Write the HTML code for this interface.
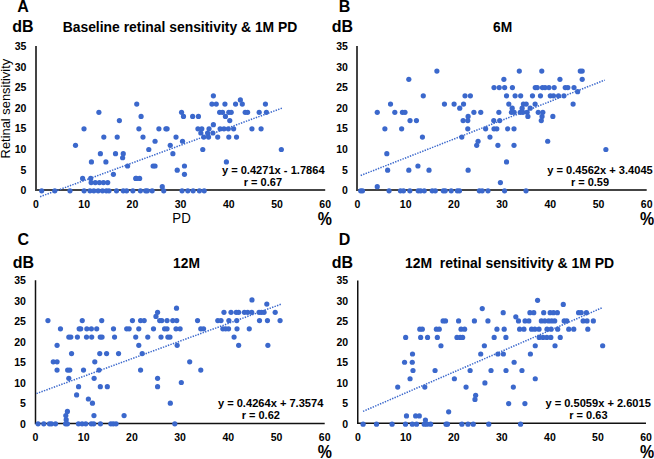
<!DOCTYPE html><html><head><meta charset="utf-8"><style>html,body{margin:0;padding:0;background:#fff;width:654px;height:459px;overflow:hidden}svg{display:block}text{font-family:"Liberation Sans",sans-serif}</style></head><body>
<svg width="654" height="459" viewBox="0 0 654 459">
<rect width="654" height="459" fill="#fff"/>
<text x="26.40" y="194.15" font-size="10.5" font-weight="bold" text-anchor="end" fill="#000">0</text>
<text x="26.40" y="173.55" font-size="10.5" font-weight="bold" text-anchor="end" fill="#000">5</text>
<text x="26.40" y="152.95" font-size="10.5" font-weight="bold" text-anchor="end" fill="#000">10</text>
<text x="26.40" y="132.35" font-size="10.5" font-weight="bold" text-anchor="end" fill="#000">15</text>
<text x="26.40" y="111.75" font-size="10.5" font-weight="bold" text-anchor="end" fill="#000">20</text>
<text x="26.40" y="91.15" font-size="10.5" font-weight="bold" text-anchor="end" fill="#000">25</text>
<text x="26.40" y="70.55" font-size="10.5" font-weight="bold" text-anchor="end" fill="#000">30</text>
<text x="26.40" y="49.95" font-size="10.5" font-weight="bold" text-anchor="end" fill="#000">35</text>
<text x="36.00" y="207.80" font-size="10.5" font-weight="bold" text-anchor="middle" fill="#000">0</text>
<text x="84.20" y="207.80" font-size="10.5" font-weight="bold" text-anchor="middle" fill="#000">10</text>
<text x="132.40" y="207.80" font-size="10.5" font-weight="bold" text-anchor="middle" fill="#000">20</text>
<text x="180.60" y="207.80" font-size="10.5" font-weight="bold" text-anchor="middle" fill="#000">30</text>
<text x="228.80" y="207.80" font-size="10.5" font-weight="bold" text-anchor="middle" fill="#000">40</text>
<text x="277.00" y="207.80" font-size="10.5" font-weight="bold" text-anchor="middle" fill="#000">50</text>
<text x="325.20" y="207.80" font-size="10.5" font-weight="bold" text-anchor="middle" fill="#000">60</text>
<path d="M36.00 46.00V190.00H325.20" fill="none" stroke="#444" stroke-width="2.0"/>
<line x1="40.10" y1="196.68" x2="282.30" y2="108.04" stroke="#3B68CC" stroke-width="1.5" stroke-dasharray="1.4 1.24"/>
<g fill="#3B68CC">
<circle cx="41.69" cy="190.8" r="2.6"/>
<circle cx="54.8" cy="190.8" r="2.6"/>
<circle cx="69.98" cy="190.8" r="2.6"/>
<circle cx="84.1" cy="190.8" r="2.6"/>
<circle cx="89.98" cy="190.8" r="2.6"/>
<circle cx="93.84" cy="190.8" r="2.6"/>
<circle cx="98.18" cy="190.8" r="2.6"/>
<circle cx="102.52" cy="190.8" r="2.6"/>
<circle cx="106.37" cy="190.8" r="2.6"/>
<circle cx="109.02" cy="190.8" r="2.6"/>
<circle cx="116.49" cy="190.8" r="2.6"/>
<circle cx="123.24" cy="190.8" r="2.6"/>
<circle cx="126.62" cy="190.8" r="2.6"/>
<circle cx="132.88" cy="190.8" r="2.6"/>
<circle cx="140.4" cy="190.8" r="2.6"/>
<circle cx="145.61" cy="190.8" r="2.6"/>
<circle cx="147.34" cy="190.8" r="2.6"/>
<circle cx="152.16" cy="190.8" r="2.6"/>
<circle cx="163.73" cy="190.8" r="2.6"/>
<circle cx="182.05" cy="190.8" r="2.6"/>
<circle cx="187.83" cy="190.8" r="2.6"/>
<circle cx="193.13" cy="190.8" r="2.6"/>
<circle cx="199.4" cy="190.8" r="2.6"/>
<circle cx="204.22" cy="190.8" r="2.6"/>
<circle cx="162.28" cy="186.67" r="2.6"/>
<circle cx="91.14" cy="182.54" r="2.6"/>
<circle cx="95.29" cy="182.54" r="2.6"/>
<circle cx="99.43" cy="182.54" r="2.6"/>
<circle cx="103.48" cy="182.54" r="2.6"/>
<circle cx="107.72" cy="182.54" r="2.6"/>
<circle cx="82.61" cy="178.41" r="2.6"/>
<circle cx="90.71" cy="178.41" r="2.6"/>
<circle cx="135.77" cy="178.41" r="2.6"/>
<circle cx="136.26" cy="178.41" r="2.6"/>
<circle cx="139.63" cy="178.41" r="2.6"/>
<circle cx="113.41" cy="174.28" r="2.6"/>
<circle cx="184.46" cy="174.28" r="2.6"/>
<circle cx="177.23" cy="170.15" r="2.6"/>
<circle cx="127.58" cy="166.02" r="2.6"/>
<circle cx="153.13" cy="166.02" r="2.6"/>
<circle cx="155.05" cy="166.02" r="2.6"/>
<circle cx="184.46" cy="166.02" r="2.6"/>
<circle cx="91.43" cy="161.89" r="2.6"/>
<circle cx="105.89" cy="161.89" r="2.6"/>
<circle cx="226.39" cy="161.89" r="2.6"/>
<circle cx="122.62" cy="157.76" r="2.6"/>
<circle cx="100.4" cy="153.63" r="2.6"/>
<circle cx="115.53" cy="153.63" r="2.6"/>
<circle cx="123.24" cy="153.63" r="2.6"/>
<circle cx="172.89" cy="153.63" r="2.6"/>
<circle cx="148.79" cy="149.5" r="2.6"/>
<circle cx="202.77" cy="149.5" r="2.6"/>
<circle cx="281.34" cy="149.5" r="2.6"/>
<circle cx="75.52" cy="145.37" r="2.6"/>
<circle cx="170.24" cy="145.37" r="2.6"/>
<circle cx="155.05" cy="141.24" r="2.6"/>
<circle cx="182.53" cy="141.24" r="2.6"/>
<circle cx="103.82" cy="137.11" r="2.6"/>
<circle cx="117.22" cy="137.11" r="2.6"/>
<circle cx="143.0" cy="137.11" r="2.6"/>
<circle cx="176.02" cy="137.11" r="2.6"/>
<circle cx="203.74" cy="137.11" r="2.6"/>
<circle cx="208.56" cy="137.11" r="2.6"/>
<circle cx="217.71" cy="137.11" r="2.6"/>
<circle cx="228.8" cy="137.11" r="2.6"/>
<circle cx="236.51" cy="137.11" r="2.6"/>
<circle cx="200.84" cy="132.98" r="2.6"/>
<circle cx="207.59" cy="132.98" r="2.6"/>
<circle cx="212.89" cy="132.98" r="2.6"/>
<circle cx="84.01" cy="128.85" r="2.6"/>
<circle cx="138.91" cy="128.85" r="2.6"/>
<circle cx="158.91" cy="128.85" r="2.6"/>
<circle cx="165.9" cy="128.85" r="2.6"/>
<circle cx="167.1" cy="128.85" r="2.6"/>
<circle cx="197.95" cy="128.85" r="2.6"/>
<circle cx="201.81" cy="128.85" r="2.6"/>
<circle cx="209.04" cy="128.85" r="2.6"/>
<circle cx="220.12" cy="128.85" r="2.6"/>
<circle cx="223.98" cy="128.85" r="2.6"/>
<circle cx="228.32" cy="128.85" r="2.6"/>
<circle cx="233.62" cy="128.85" r="2.6"/>
<circle cx="251.94" cy="128.85" r="2.6"/>
<circle cx="261.09" cy="128.85" r="2.6"/>
<circle cx="213.38" cy="124.72" r="2.6"/>
<circle cx="119.39" cy="120.59" r="2.6"/>
<circle cx="229.76" cy="120.59" r="2.6"/>
<circle cx="141.08" cy="116.46" r="2.6"/>
<circle cx="183.49" cy="116.46" r="2.6"/>
<circle cx="192.65" cy="116.46" r="2.6"/>
<circle cx="198.43" cy="116.46" r="2.6"/>
<circle cx="225.43" cy="116.46" r="2.6"/>
<circle cx="98.9" cy="112.33" r="2.6"/>
<circle cx="181.56" cy="112.33" r="2.6"/>
<circle cx="219.64" cy="112.33" r="2.6"/>
<circle cx="222.53" cy="112.33" r="2.6"/>
<circle cx="228.8" cy="112.33" r="2.6"/>
<circle cx="231.21" cy="112.33" r="2.6"/>
<circle cx="245.19" cy="112.33" r="2.6"/>
<circle cx="247.6" cy="112.33" r="2.6"/>
<circle cx="259.17" cy="112.33" r="2.6"/>
<circle cx="266.4" cy="112.33" r="2.6"/>
<circle cx="136.74" cy="104.07" r="2.6"/>
<circle cx="211.93" cy="104.07" r="2.6"/>
<circle cx="216.27" cy="104.07" r="2.6"/>
<circle cx="224.94" cy="104.07" r="2.6"/>
<circle cx="235.55" cy="104.07" r="2.6"/>
<circle cx="242.3" cy="104.07" r="2.6"/>
<circle cx="265.43" cy="104.07" r="2.6"/>
<circle cx="240.37" cy="99.94" r="2.6"/>
<circle cx="213.38" cy="95.81" r="2.6"/>
</g>
<text x="347.90" y="194.15" font-size="10.5" font-weight="bold" text-anchor="end" fill="#000">0</text>
<text x="347.90" y="173.55" font-size="10.5" font-weight="bold" text-anchor="end" fill="#000">5</text>
<text x="347.90" y="152.95" font-size="10.5" font-weight="bold" text-anchor="end" fill="#000">10</text>
<text x="347.90" y="132.35" font-size="10.5" font-weight="bold" text-anchor="end" fill="#000">15</text>
<text x="347.90" y="111.75" font-size="10.5" font-weight="bold" text-anchor="end" fill="#000">20</text>
<text x="347.90" y="91.15" font-size="10.5" font-weight="bold" text-anchor="end" fill="#000">25</text>
<text x="347.90" y="70.55" font-size="10.5" font-weight="bold" text-anchor="end" fill="#000">30</text>
<text x="347.90" y="49.95" font-size="10.5" font-weight="bold" text-anchor="end" fill="#000">35</text>
<text x="357.50" y="207.80" font-size="10.5" font-weight="bold" text-anchor="middle" fill="#000">0</text>
<text x="405.70" y="207.80" font-size="10.5" font-weight="bold" text-anchor="middle" fill="#000">10</text>
<text x="453.90" y="207.80" font-size="10.5" font-weight="bold" text-anchor="middle" fill="#000">20</text>
<text x="502.10" y="207.80" font-size="10.5" font-weight="bold" text-anchor="middle" fill="#000">30</text>
<text x="550.30" y="207.80" font-size="10.5" font-weight="bold" text-anchor="middle" fill="#000">40</text>
<text x="598.50" y="207.80" font-size="10.5" font-weight="bold" text-anchor="middle" fill="#000">50</text>
<text x="646.70" y="207.80" font-size="10.5" font-weight="bold" text-anchor="middle" fill="#000">60</text>
<path d="M357.00 46.00V190.00H646.70" fill="none" stroke="#444" stroke-width="2.0"/>
<line x1="360.68" y1="175.50" x2="604.77" y2="80.08" stroke="#3B68CC" stroke-width="1.5" stroke-dasharray="1.4 1.24"/>
<g fill="#3B68CC">
<circle cx="436.89" cy="71.03" r="2.6"/>
<circle cx="519.31" cy="71.03" r="2.6"/>
<circle cx="541.77" cy="71.03" r="2.6"/>
<circle cx="580.28" cy="71.03" r="2.6"/>
<circle cx="582.21" cy="71.03" r="2.6"/>
<circle cx="408.83" cy="79.29" r="2.6"/>
<circle cx="503.88" cy="79.29" r="2.6"/>
<circle cx="559.94" cy="79.29" r="2.6"/>
<circle cx="582.21" cy="79.29" r="2.6"/>
<circle cx="494.0" cy="87.55" r="2.6"/>
<circle cx="499.21" cy="87.55" r="2.6"/>
<circle cx="504.65" cy="87.55" r="2.6"/>
<circle cx="512.41" cy="87.55" r="2.6"/>
<circle cx="535.26" cy="87.55" r="2.6"/>
<circle cx="537.24" cy="87.55" r="2.6"/>
<circle cx="542.44" cy="87.55" r="2.6"/>
<circle cx="545.05" cy="87.55" r="2.6"/>
<circle cx="548.95" cy="87.55" r="2.6"/>
<circle cx="554.2" cy="87.55" r="2.6"/>
<circle cx="565.24" cy="87.55" r="2.6"/>
<circle cx="567.84" cy="87.55" r="2.6"/>
<circle cx="574.01" cy="87.55" r="2.6"/>
<circle cx="577.63" cy="91.68" r="2.6"/>
<circle cx="423.29" cy="95.81" r="2.6"/>
<circle cx="465.03" cy="95.81" r="2.6"/>
<circle cx="470.38" cy="95.81" r="2.6"/>
<circle cx="506.53" cy="95.81" r="2.6"/>
<circle cx="515.11" cy="95.81" r="2.6"/>
<circle cx="520.66" cy="95.81" r="2.6"/>
<circle cx="532.47" cy="95.81" r="2.6"/>
<circle cx="540.47" cy="95.81" r="2.6"/>
<circle cx="550.3" cy="95.81" r="2.6"/>
<circle cx="553.48" cy="95.81" r="2.6"/>
<circle cx="558.49" cy="95.81" r="2.6"/>
<circle cx="563.94" cy="95.81" r="2.6"/>
<circle cx="390.52" cy="104.07" r="2.6"/>
<circle cx="444.45" cy="104.07" r="2.6"/>
<circle cx="454.09" cy="104.07" r="2.6"/>
<circle cx="463.54" cy="104.07" r="2.6"/>
<circle cx="508.8" cy="104.07" r="2.6"/>
<circle cx="523.4" cy="104.07" r="2.6"/>
<circle cx="526.2" cy="104.07" r="2.6"/>
<circle cx="535.12" cy="104.07" r="2.6"/>
<circle cx="573.1" cy="104.07" r="2.6"/>
<circle cx="459.73" cy="108.2" r="2.6"/>
<circle cx="512.22" cy="108.2" r="2.6"/>
<circle cx="522.15" cy="108.2" r="2.6"/>
<circle cx="530.2" cy="108.2" r="2.6"/>
<circle cx="377.26" cy="112.33" r="2.6"/>
<circle cx="394.81" cy="112.33" r="2.6"/>
<circle cx="402.42" cy="112.33" r="2.6"/>
<circle cx="404.98" cy="112.33" r="2.6"/>
<circle cx="473.9" cy="112.33" r="2.6"/>
<circle cx="480.75" cy="112.33" r="2.6"/>
<circle cx="498.87" cy="112.33" r="2.6"/>
<circle cx="511.45" cy="112.33" r="2.6"/>
<circle cx="514.15" cy="112.33" r="2.6"/>
<circle cx="520.27" cy="112.33" r="2.6"/>
<circle cx="522.92" cy="112.33" r="2.6"/>
<circle cx="527.16" cy="112.33" r="2.6"/>
<circle cx="538.25" cy="112.33" r="2.6"/>
<circle cx="542.83" cy="112.33" r="2.6"/>
<circle cx="468.12" cy="116.46" r="2.6"/>
<circle cx="527.89" cy="116.46" r="2.6"/>
<circle cx="542.06" cy="116.46" r="2.6"/>
<circle cx="552.85" cy="116.46" r="2.6"/>
<circle cx="410.04" cy="120.59" r="2.6"/>
<circle cx="416.45" cy="120.59" r="2.6"/>
<circle cx="463.11" cy="120.59" r="2.6"/>
<circle cx="467.78" cy="120.59" r="2.6"/>
<circle cx="493.76" cy="120.59" r="2.6"/>
<circle cx="499.69" cy="120.59" r="2.6"/>
<circle cx="541.29" cy="120.59" r="2.6"/>
<circle cx="384.88" cy="128.85" r="2.6"/>
<circle cx="401.65" cy="128.85" r="2.6"/>
<circle cx="467.78" cy="128.85" r="2.6"/>
<circle cx="485.62" cy="128.85" r="2.6"/>
<circle cx="494.0" cy="128.85" r="2.6"/>
<circle cx="496.8" cy="128.85" r="2.6"/>
<circle cx="507.69" cy="128.85" r="2.6"/>
<circle cx="514.01" cy="128.85" r="2.6"/>
<circle cx="422.43" cy="137.11" r="2.6"/>
<circle cx="461.8" cy="137.11" r="2.6"/>
<circle cx="489.95" cy="137.11" r="2.6"/>
<circle cx="478.05" cy="141.24" r="2.6"/>
<circle cx="547.7" cy="141.24" r="2.6"/>
<circle cx="476.7" cy="145.37" r="2.6"/>
<circle cx="497.91" cy="145.37" r="2.6"/>
<circle cx="514.01" cy="145.37" r="2.6"/>
<circle cx="605.87" cy="149.5" r="2.6"/>
<circle cx="386.81" cy="153.63" r="2.6"/>
<circle cx="506.53" cy="161.89" r="2.6"/>
<circle cx="417.94" cy="166.02" r="2.6"/>
<circle cx="387.62" cy="170.15" r="2.6"/>
<circle cx="408.83" cy="170.15" r="2.6"/>
<circle cx="429.03" cy="170.15" r="2.6"/>
<circle cx="468.12" cy="170.15" r="2.6"/>
<circle cx="500.41" cy="182.54" r="2.6"/>
<circle cx="377.26" cy="186.67" r="2.6"/>
<circle cx="360.68" cy="190.8" r="2.6"/>
<circle cx="362.51" cy="190.8" r="2.6"/>
<circle cx="389.07" cy="190.8" r="2.6"/>
<circle cx="400.45" cy="190.8" r="2.6"/>
<circle cx="403.48" cy="190.8" r="2.6"/>
<circle cx="409.85" cy="190.8" r="2.6"/>
<circle cx="418.18" cy="190.8" r="2.6"/>
<circle cx="420.59" cy="190.8" r="2.6"/>
<circle cx="424.26" cy="190.8" r="2.6"/>
<circle cx="432.21" cy="190.8" r="2.6"/>
<circle cx="435.29" cy="190.8" r="2.6"/>
<circle cx="443.25" cy="190.8" r="2.6"/>
<circle cx="445.22" cy="190.8" r="2.6"/>
<circle cx="451.2" cy="190.8" r="2.6"/>
<circle cx="457.32" cy="190.8" r="2.6"/>
<circle cx="459.49" cy="190.8" r="2.6"/>
<circle cx="479.35" cy="190.8" r="2.6"/>
<circle cx="482.19" cy="190.8" r="2.6"/>
<circle cx="487.98" cy="190.8" r="2.6"/>
<circle cx="504.56" cy="190.8" r="2.6"/>
<circle cx="526.01" cy="190.8" r="2.6"/>
</g>
<text x="25.90" y="427.75" font-size="10.5" font-weight="bold" text-anchor="end" fill="#000">0</text>
<text x="25.90" y="407.26" font-size="10.5" font-weight="bold" text-anchor="end" fill="#000">5</text>
<text x="25.90" y="386.78" font-size="10.5" font-weight="bold" text-anchor="end" fill="#000">10</text>
<text x="25.90" y="366.29" font-size="10.5" font-weight="bold" text-anchor="end" fill="#000">15</text>
<text x="25.90" y="345.81" font-size="10.5" font-weight="bold" text-anchor="end" fill="#000">20</text>
<text x="25.90" y="325.32" font-size="10.5" font-weight="bold" text-anchor="end" fill="#000">25</text>
<text x="25.90" y="304.84" font-size="10.5" font-weight="bold" text-anchor="end" fill="#000">30</text>
<text x="25.90" y="284.35" font-size="10.5" font-weight="bold" text-anchor="end" fill="#000">35</text>
<text x="35.50" y="441.00" font-size="10.5" font-weight="bold" text-anchor="middle" fill="#000">0</text>
<text x="83.70" y="441.00" font-size="10.5" font-weight="bold" text-anchor="middle" fill="#000">10</text>
<text x="131.90" y="441.00" font-size="10.5" font-weight="bold" text-anchor="middle" fill="#000">20</text>
<text x="180.10" y="441.00" font-size="10.5" font-weight="bold" text-anchor="middle" fill="#000">30</text>
<text x="228.30" y="441.00" font-size="10.5" font-weight="bold" text-anchor="middle" fill="#000">40</text>
<text x="276.50" y="441.00" font-size="10.5" font-weight="bold" text-anchor="middle" fill="#000">50</text>
<text x="324.70" y="441.00" font-size="10.5" font-weight="bold" text-anchor="middle" fill="#000">60</text>
<path d="M35.50 280.30V423.50H324.70" fill="none" stroke="#111" stroke-width="1.5"/>
<line x1="36.46" y1="393.56" x2="280.84" y2="304.28" stroke="#3B68CC" stroke-width="1.5" stroke-dasharray="1.4 1.24"/>
<g fill="#3B68CC">
<circle cx="251.97" cy="299.9" r="2.6"/>
<circle cx="266.81" cy="304.03" r="2.6"/>
<circle cx="176.53" cy="308.16" r="2.6"/>
<circle cx="157.59" cy="312.29" r="2.6"/>
<circle cx="223.96" cy="312.29" r="2.6"/>
<circle cx="231.0" cy="312.29" r="2.6"/>
<circle cx="236.2" cy="312.29" r="2.6"/>
<circle cx="238.66" cy="312.29" r="2.6"/>
<circle cx="244.4" cy="312.29" r="2.6"/>
<circle cx="247.68" cy="312.29" r="2.6"/>
<circle cx="251.73" cy="312.29" r="2.6"/>
<circle cx="259.05" cy="312.29" r="2.6"/>
<circle cx="261.46" cy="312.29" r="2.6"/>
<circle cx="264.06" cy="312.29" r="2.6"/>
<circle cx="275.2" cy="312.29" r="2.6"/>
<circle cx="155.95" cy="316.42" r="2.6"/>
<circle cx="47.94" cy="320.55" r="2.6"/>
<circle cx="82.25" cy="320.55" r="2.6"/>
<circle cx="101.73" cy="320.55" r="2.6"/>
<circle cx="132.43" cy="320.55" r="2.6"/>
<circle cx="140.58" cy="320.55" r="2.6"/>
<circle cx="144.19" cy="320.55" r="2.6"/>
<circle cx="159.71" cy="320.55" r="2.6"/>
<circle cx="161.83" cy="320.55" r="2.6"/>
<circle cx="167.04" cy="320.55" r="2.6"/>
<circle cx="172.77" cy="320.55" r="2.6"/>
<circle cx="176.73" cy="320.55" r="2.6"/>
<circle cx="197.55" cy="320.55" r="2.6"/>
<circle cx="217.79" cy="320.55" r="2.6"/>
<circle cx="221.02" cy="320.55" r="2.6"/>
<circle cx="228.88" cy="320.55" r="2.6"/>
<circle cx="236.74" cy="320.55" r="2.6"/>
<circle cx="259.49" cy="320.55" r="2.6"/>
<circle cx="267.44" cy="320.55" r="2.6"/>
<circle cx="280.07" cy="320.55" r="2.6"/>
<circle cx="60.47" cy="328.81" r="2.6"/>
<circle cx="79.17" cy="328.81" r="2.6"/>
<circle cx="80.71" cy="328.81" r="2.6"/>
<circle cx="86.83" cy="328.81" r="2.6"/>
<circle cx="91.36" cy="328.81" r="2.6"/>
<circle cx="96.71" cy="328.81" r="2.6"/>
<circle cx="113.49" cy="328.81" r="2.6"/>
<circle cx="126.69" cy="328.81" r="2.6"/>
<circle cx="129.15" cy="328.81" r="2.6"/>
<circle cx="138.79" cy="328.81" r="2.6"/>
<circle cx="153.49" cy="328.81" r="2.6"/>
<circle cx="164.58" cy="328.81" r="2.6"/>
<circle cx="167.04" cy="328.81" r="2.6"/>
<circle cx="176.0" cy="328.81" r="2.6"/>
<circle cx="180.1" cy="328.81" r="2.6"/>
<circle cx="200.78" cy="328.81" r="2.6"/>
<circle cx="203.57" cy="328.81" r="2.6"/>
<circle cx="222.85" cy="328.81" r="2.6"/>
<circle cx="225.6" cy="328.81" r="2.6"/>
<circle cx="228.54" cy="328.81" r="2.6"/>
<circle cx="237.02" cy="328.81" r="2.6"/>
<circle cx="249.27" cy="328.81" r="2.6"/>
<circle cx="68.81" cy="337.07" r="2.6"/>
<circle cx="70.83" cy="337.07" r="2.6"/>
<circle cx="77.39" cy="337.07" r="2.6"/>
<circle cx="86.5" cy="337.07" r="2.6"/>
<circle cx="91.7" cy="337.07" r="2.6"/>
<circle cx="100.23" cy="337.07" r="2.6"/>
<circle cx="102.06" cy="337.07" r="2.6"/>
<circle cx="114.55" cy="337.07" r="2.6"/>
<circle cx="135.71" cy="337.07" r="2.6"/>
<circle cx="147.76" cy="337.07" r="2.6"/>
<circle cx="161.01" cy="337.07" r="2.6"/>
<circle cx="167.86" cy="337.07" r="2.6"/>
<circle cx="169.98" cy="337.07" r="2.6"/>
<circle cx="234.08" cy="337.07" r="2.6"/>
<circle cx="57.09" cy="345.33" r="2.6"/>
<circle cx="138.79" cy="345.33" r="2.6"/>
<circle cx="177.16" cy="345.33" r="2.6"/>
<circle cx="238.66" cy="345.33" r="2.6"/>
<circle cx="267.87" cy="345.33" r="2.6"/>
<circle cx="71.55" cy="353.59" r="2.6"/>
<circle cx="99.75" cy="353.59" r="2.6"/>
<circle cx="106.59" cy="353.59" r="2.6"/>
<circle cx="118.55" cy="353.59" r="2.6"/>
<circle cx="142.21" cy="353.59" r="2.6"/>
<circle cx="53.29" cy="361.85" r="2.6"/>
<circle cx="57.09" cy="361.85" r="2.6"/>
<circle cx="94.79" cy="361.85" r="2.6"/>
<circle cx="189.69" cy="361.85" r="2.6"/>
<circle cx="57.05" cy="370.11" r="2.6"/>
<circle cx="67.65" cy="370.11" r="2.6"/>
<circle cx="69.77" cy="370.11" r="2.6"/>
<circle cx="83.51" cy="370.11" r="2.6"/>
<circle cx="98.98" cy="370.11" r="2.6"/>
<circle cx="140.58" cy="370.11" r="2.6"/>
<circle cx="200.78" cy="370.11" r="2.6"/>
<circle cx="68.81" cy="378.37" r="2.6"/>
<circle cx="94.11" cy="378.37" r="2.6"/>
<circle cx="157.59" cy="378.37" r="2.6"/>
<circle cx="181.31" cy="382.5" r="2.6"/>
<circle cx="78.59" cy="386.63" r="2.6"/>
<circle cx="100.33" cy="386.63" r="2.6"/>
<circle cx="107.32" cy="386.63" r="2.6"/>
<circle cx="157.59" cy="386.63" r="2.6"/>
<circle cx="76.61" cy="394.89" r="2.6"/>
<circle cx="88.38" cy="399.02" r="2.6"/>
<circle cx="92.47" cy="403.15" r="2.6"/>
<circle cx="170.32" cy="403.15" r="2.6"/>
<circle cx="67.41" cy="411.41" r="2.6"/>
<circle cx="65.82" cy="415.54" r="2.6"/>
<circle cx="93.97" cy="415.54" r="2.6"/>
<circle cx="124.09" cy="415.54" r="2.6"/>
<circle cx="66.2" cy="419.67" r="2.6"/>
<circle cx="38.05" cy="423.8" r="2.6"/>
<circle cx="43.79" cy="423.8" r="2.6"/>
<circle cx="49.43" cy="423.8" r="2.6"/>
<circle cx="51.5" cy="423.8" r="2.6"/>
<circle cx="55.55" cy="423.8" r="2.6"/>
<circle cx="65.58" cy="423.8" r="2.6"/>
<circle cx="67.41" cy="423.8" r="2.6"/>
<circle cx="78.45" cy="423.8" r="2.6"/>
<circle cx="82.11" cy="423.8" r="2.6"/>
<circle cx="85.77" cy="423.8" r="2.6"/>
<circle cx="91.27" cy="423.8" r="2.6"/>
<circle cx="93.73" cy="423.8" r="2.6"/>
<circle cx="100.43" cy="423.8" r="2.6"/>
<circle cx="110.84" cy="423.8" r="2.6"/>
<circle cx="113.29" cy="423.8" r="2.6"/>
<circle cx="116.09" cy="423.8" r="2.6"/>
<circle cx="174.8" cy="423.8" r="2.6"/>
</g>
<text x="348.20" y="427.75" font-size="10.5" font-weight="bold" text-anchor="end" fill="#000">0</text>
<text x="348.20" y="407.26" font-size="10.5" font-weight="bold" text-anchor="end" fill="#000">5</text>
<text x="348.20" y="386.78" font-size="10.5" font-weight="bold" text-anchor="end" fill="#000">10</text>
<text x="348.20" y="366.29" font-size="10.5" font-weight="bold" text-anchor="end" fill="#000">15</text>
<text x="348.20" y="345.81" font-size="10.5" font-weight="bold" text-anchor="end" fill="#000">20</text>
<text x="348.20" y="325.32" font-size="10.5" font-weight="bold" text-anchor="end" fill="#000">25</text>
<text x="348.20" y="304.84" font-size="10.5" font-weight="bold" text-anchor="end" fill="#000">30</text>
<text x="348.20" y="284.35" font-size="10.5" font-weight="bold" text-anchor="end" fill="#000">35</text>
<text x="357.80" y="440.90" font-size="10.5" font-weight="bold" text-anchor="middle" fill="#000">0</text>
<text x="405.83" y="440.90" font-size="10.5" font-weight="bold" text-anchor="middle" fill="#000">10</text>
<text x="453.86" y="440.90" font-size="10.5" font-weight="bold" text-anchor="middle" fill="#000">20</text>
<text x="501.89" y="440.90" font-size="10.5" font-weight="bold" text-anchor="middle" fill="#000">30</text>
<text x="549.92" y="440.90" font-size="10.5" font-weight="bold" text-anchor="middle" fill="#000">40</text>
<text x="597.95" y="440.90" font-size="10.5" font-weight="bold" text-anchor="middle" fill="#000">50</text>
<text x="645.98" y="440.90" font-size="10.5" font-weight="bold" text-anchor="middle" fill="#000">60</text>
<path d="M357.75 280.50V423.30H645.98" fill="none" stroke="#111" stroke-width="1.5"/>
<line x1="363.01" y1="411.40" x2="602.17" y2="307.72" stroke="#3B68CC" stroke-width="1.5" stroke-dasharray="1.4 1.24"/>
<g fill="#3B68CC">
<circle cx="537.59" cy="300.3" r="2.6"/>
<circle cx="563.28" cy="304.43" r="2.6"/>
<circle cx="482.25" cy="308.56" r="2.6"/>
<circle cx="503.22" cy="312.69" r="2.6"/>
<circle cx="529.92" cy="312.69" r="2.6"/>
<circle cx="533.78" cy="312.69" r="2.6"/>
<circle cx="543.71" cy="312.69" r="2.6"/>
<circle cx="550.12" cy="312.69" r="2.6"/>
<circle cx="553.49" cy="312.69" r="2.6"/>
<circle cx="557.35" cy="312.69" r="2.6"/>
<circle cx="578.56" cy="312.69" r="2.6"/>
<circle cx="581.16" cy="312.69" r="2.6"/>
<circle cx="586.41" cy="312.69" r="2.6"/>
<circle cx="515.8" cy="316.82" r="2.6"/>
<circle cx="443.07" cy="320.95" r="2.6"/>
<circle cx="445.52" cy="320.95" r="2.6"/>
<circle cx="458.59" cy="320.95" r="2.6"/>
<circle cx="474.4" cy="320.95" r="2.6"/>
<circle cx="487.94" cy="320.95" r="2.6"/>
<circle cx="518.5" cy="320.95" r="2.6"/>
<circle cx="525.05" cy="320.95" r="2.6"/>
<circle cx="528.86" cy="320.95" r="2.6"/>
<circle cx="541.35" cy="320.95" r="2.6"/>
<circle cx="544.82" cy="320.95" r="2.6"/>
<circle cx="548.67" cy="320.95" r="2.6"/>
<circle cx="551.71" cy="320.95" r="2.6"/>
<circle cx="554.7" cy="320.95" r="2.6"/>
<circle cx="564.19" cy="320.95" r="2.6"/>
<circle cx="566.8" cy="320.95" r="2.6"/>
<circle cx="583.13" cy="320.95" r="2.6"/>
<circle cx="587.04" cy="320.95" r="2.6"/>
<circle cx="593.35" cy="320.95" r="2.6"/>
<circle cx="419.83" cy="329.21" r="2.6"/>
<circle cx="422.29" cy="329.21" r="2.6"/>
<circle cx="436.37" cy="329.21" r="2.6"/>
<circle cx="439.26" cy="329.21" r="2.6"/>
<circle cx="461.04" cy="329.21" r="2.6"/>
<circle cx="464.61" cy="329.21" r="2.6"/>
<circle cx="496.95" cy="329.21" r="2.6"/>
<circle cx="504.18" cy="329.21" r="2.6"/>
<circle cx="519.61" cy="329.21" r="2.6"/>
<circle cx="523.95" cy="329.21" r="2.6"/>
<circle cx="531.56" cy="329.21" r="2.6"/>
<circle cx="534.84" cy="329.21" r="2.6"/>
<circle cx="539.03" cy="329.21" r="2.6"/>
<circle cx="546.99" cy="329.21" r="2.6"/>
<circle cx="551.13" cy="329.21" r="2.6"/>
<circle cx="557.69" cy="329.21" r="2.6"/>
<circle cx="568.77" cy="329.21" r="2.6"/>
<circle cx="573.74" cy="329.21" r="2.6"/>
<circle cx="587.81" cy="329.21" r="2.6"/>
<circle cx="405.66" cy="337.47" r="2.6"/>
<circle cx="420.65" cy="337.47" r="2.6"/>
<circle cx="427.55" cy="337.47" r="2.6"/>
<circle cx="437.33" cy="337.47" r="2.6"/>
<circle cx="456.95" cy="337.47" r="2.6"/>
<circle cx="460.23" cy="337.47" r="2.6"/>
<circle cx="462.63" cy="337.47" r="2.6"/>
<circle cx="494.16" cy="337.47" r="2.6"/>
<circle cx="505.92" cy="337.47" r="2.6"/>
<circle cx="539.22" cy="337.47" r="2.6"/>
<circle cx="543.03" cy="337.47" r="2.6"/>
<circle cx="546.84" cy="337.47" r="2.6"/>
<circle cx="550.84" cy="337.47" r="2.6"/>
<circle cx="560.24" cy="337.47" r="2.6"/>
<circle cx="440.95" cy="345.73" r="2.6"/>
<circle cx="484.37" cy="345.73" r="2.6"/>
<circle cx="535.27" cy="345.73" r="2.6"/>
<circle cx="555.03" cy="345.73" r="2.6"/>
<circle cx="602.66" cy="345.73" r="2.6"/>
<circle cx="412.51" cy="353.99" r="2.6"/>
<circle cx="480.71" cy="353.99" r="2.6"/>
<circle cx="497.87" cy="353.99" r="2.6"/>
<circle cx="503.36" cy="353.99" r="2.6"/>
<circle cx="530.4" cy="353.99" r="2.6"/>
<circle cx="404.55" cy="362.25" r="2.6"/>
<circle cx="412.27" cy="362.25" r="2.6"/>
<circle cx="514.11" cy="362.25" r="2.6"/>
<circle cx="412.99" cy="370.51" r="2.6"/>
<circle cx="435.06" cy="370.51" r="2.6"/>
<circle cx="470.11" cy="370.51" r="2.6"/>
<circle cx="491.02" cy="370.51" r="2.6"/>
<circle cx="506.01" cy="370.51" r="2.6"/>
<circle cx="521.97" cy="370.51" r="2.6"/>
<circle cx="410.05" cy="378.77" r="2.6"/>
<circle cx="454.39" cy="378.77" r="2.6"/>
<circle cx="535.27" cy="378.77" r="2.6"/>
<circle cx="484.9" cy="382.9" r="2.6"/>
<circle cx="397.71" cy="387.03" r="2.6"/>
<circle cx="424.8" cy="387.03" r="2.6"/>
<circle cx="466.06" cy="387.03" r="2.6"/>
<circle cx="513.34" cy="387.03" r="2.6"/>
<circle cx="475.65" cy="395.29" r="2.6"/>
<circle cx="474.97" cy="399.42" r="2.6"/>
<circle cx="508.67" cy="403.55" r="2.6"/>
<circle cx="524.91" cy="403.55" r="2.6"/>
<circle cx="448.66" cy="411.81" r="2.6"/>
<circle cx="406.48" cy="415.94" r="2.6"/>
<circle cx="415.64" cy="415.94" r="2.6"/>
<circle cx="419.3" cy="415.94" r="2.6"/>
<circle cx="425.42" cy="420.07" r="2.6"/>
<circle cx="363.1" cy="424.2" r="2.6"/>
<circle cx="376.5" cy="424.2" r="2.6"/>
<circle cx="392.07" cy="424.2" r="2.6"/>
<circle cx="405.52" cy="424.2" r="2.6"/>
<circle cx="412.31" cy="424.2" r="2.6"/>
<circle cx="416.56" cy="424.2" r="2.6"/>
<circle cx="424.22" cy="424.2" r="2.6"/>
<circle cx="426.97" cy="424.2" r="2.6"/>
<circle cx="430.63" cy="424.2" r="2.6"/>
<circle cx="446.05" cy="424.2" r="2.6"/>
<circle cx="447.45" cy="424.2" r="2.6"/>
<circle cx="461.91" cy="424.2" r="2.6"/>
<circle cx="467.99" cy="424.2" r="2.6"/>
<circle cx="473.24" cy="424.2" r="2.6"/>
<circle cx="488.76" cy="424.2" r="2.6"/>
<circle cx="520.57" cy="424.2" r="2.6"/>
</g>
<text x="23.0" y="11.7" font-size="16" font-weight="bold" text-anchor="middle" fill="#000" >A</text>
<text x="22.9" y="31.6" font-size="16" font-weight="bold" text-anchor="middle" fill="#000" >dB</text>
<text x="344.5" y="11.7" font-size="16" font-weight="bold" text-anchor="middle" fill="#000" >B</text>
<text x="342.4" y="31.6" font-size="16" font-weight="bold" text-anchor="middle" fill="#000" >dB</text>
<text x="23.2" y="244.6" font-size="16" font-weight="bold" text-anchor="middle" fill="#000" >C</text>
<text x="23.4" y="267.9" font-size="16" font-weight="bold" text-anchor="middle" fill="#000" >dB</text>
<text x="344.5" y="244.6" font-size="16" font-weight="bold" text-anchor="middle" fill="#000" >D</text>
<text x="342.4" y="267.9" font-size="16" font-weight="bold" text-anchor="middle" fill="#000" >dB</text>
<text x="180.0" y="32.1" font-size="13.9" font-weight="bold" text-anchor="middle" fill="#000" >Baseline retinal sensitivity &amp; 1M PD</text>
<text x="502.7" y="32.1" font-size="13.8" font-weight="bold" text-anchor="middle" fill="#000" >6M</text>
<text x="186.5" y="267.9" font-size="13.8" font-weight="bold" text-anchor="middle" fill="#000" >12M</text>
<text x="509.5" y="268.1" font-size="13.95" font-weight="bold" text-anchor="middle" fill="#000" xml:space="preserve">12M  retinal sensitivity &amp; 1M PD</text>
<text x="324.6" y="174.2" font-size="11.1" font-weight="bold" text-anchor="end" fill="#000" >y = 0.4271x - 1.7864</text>
<text x="262.9" y="186.2" font-size="11" font-weight="bold" text-anchor="middle" fill="#000" >r = 0.67</text>
<text x="652.8" y="174.2" font-size="11.1" font-weight="bold" text-anchor="end" fill="#000" >y = 0.4562x + 3.4045</text>
<text x="590.0" y="186.2" font-size="11" font-weight="bold" text-anchor="middle" fill="#000" >r = 0.59</text>
<text x="323.4" y="407.4" font-size="11.1" font-weight="bold" text-anchor="end" fill="#000" >y = 0.4264x + 7.3574</text>
<text x="260.8" y="419.3" font-size="11" font-weight="bold" text-anchor="middle" fill="#000" >r = 0.62</text>
<text x="650.9" y="406.8" font-size="11.1" font-weight="bold" text-anchor="end" fill="#000" >y = 0.5059x + 2.6015</text>
<text x="588.4" y="419.3" font-size="11" font-weight="bold" text-anchor="middle" fill="#000" >r = 0.63</text>
<text transform="translate(324.9,224.6) scale(1.03,1.18)" font-size="15.5" font-weight="bold" text-anchor="middle" fill="#000">%</text>
<text transform="translate(647.0,224.6) scale(1.03,1.18)" font-size="15.5" font-weight="bold" text-anchor="middle" fill="#000">%</text>
<text transform="translate(324.9,457.8) scale(1.03,1.18)" font-size="15.5" font-weight="bold" text-anchor="middle" fill="#000">%</text>
<text transform="translate(647.0,457.8) scale(1.03,1.18)" font-size="15.5" font-weight="bold" text-anchor="middle" fill="#000">%</text>
<text transform="translate(181.5,222.7) scale(1,1.13)" font-size="13.3" text-anchor="middle" fill="#000">PD</text>
<text transform="translate(10.0,108.6) rotate(-90)" font-size="12.9" font-weight="normal" text-anchor="middle" fill="#000">Retinal sensitivity</text>
</svg></body></html>
